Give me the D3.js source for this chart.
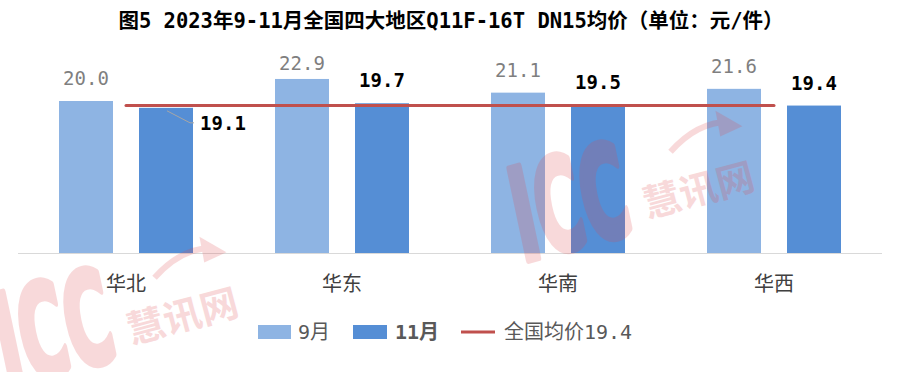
<!DOCTYPE html>
<html lang="zh">

<head>
	<meta charset="utf-8">
	<title>图5</title>
	<style>
		body {
			margin: 0;
			background: #fff;
		}

		svg {
			display: block;
			font-family: "Noto Sans CJK SC", sans-serif;
		}

		.num {
			font-family: "DejaVu Sans Mono", "Noto Sans CJK SC", monospace;
		}
	</style>
</head>

<body>
	<svg width="900" height="372"></svg>

	<script src="https://d3js.org/d3.v7.min.js"></script>
	<script>
		// data
		var regions = ["华北", "华东", "华南", "华西"];
		var seriesNames = ["9月", "11月"];
		var sep = [20.0, 22.9, 21.1, 21.6];
		var nov = [19.1, 19.7, 19.5, 19.4];
		var avgName = "全国均价";
		var avg = 19.4;
		var title = "图5 2023年9-11月全国四大地区Q11F-16T DN15均价（单位：元/件）";

		var colors = ["#8EB4E3", "#558ED5"];
		var lineColor = "#C0504D";

		var svg = d3.select("svg");

		var x = d3.scaleBand().domain(regions).range([18, 882]);
		var x1 = d3.scaleBand().domain(seriesNames).range([0, x.bandwidth()])
			.paddingInner(0.325).paddingOuter(0.5125);
		var y = d3.scaleLinear().domain([0, 25]).range([253, 63]);

		// title
		svg.append("text")
			.attr("class", "num")
			.attr("x", 451)
			.attr("y", 28)
			.attr("text-anchor", "middle")
			.style("font-size", "20.5px")
			.style("font-weight", "bold")
			.style("fill", "#000")
			.text(title);

		// axis line
		svg.append("line")
			.attr("x1", x.range()[0]).attr("x2", x.range()[1])
			.attr("y1", y(0) + 0.5).attr("y2", y(0) + 0.5)
			.style("stroke", "#D9D9D9")
			.style("stroke-width", 1);

		var rows = regions.map(function(r, i) {
			return { region: r, values: [sep[i], nov[i]] };
		});

		var groups = svg.selectAll(".group").data(rows)
			.enter().append("g")
			.attr("class", "group")
			.attr("transform", function(d) { return "translate(" + x(d.region) + ",0)"; });

		groups.selectAll("rect").data(function(d) { return d.values; })
			.enter().append("rect")
			.attr("x", function(d, i) { return x1(seriesNames[i]); })
			.attr("width", x1.bandwidth())
			.attr("y", function(d) { return y(d); })
			.attr("height", function(d) { return y(0) - y(d); })
			.style("fill", function(d, i) { return colors[i]; });

		// 9月 labels
		groups.append("text")
			.attr("class", "num")
			.attr("x", x1("9月") + x1.bandwidth() / 2)
			.attr("y", function(d) { return Math.max(y(d.values[0]) - 16, 70); })
			.attr("text-anchor", "middle")
			.style("font-size", "19px")
			.style("fill", "#7F7F7F")
			.text(function(d) { return d.values[0].toFixed(1); });

		// 11月 labels (first one moved right with a leader line)
		groups.append("text")
			.attr("class", "num")
			.attr("x", function(d, i) { return i == 0 ? x1("11月") + x1.bandwidth() + 30 : x1("11月") + x1.bandwidth() / 2; })
			.attr("y", function(d, i) { return i == 0 ? y(d.values[1]) + 22 : y(d.values[1]) - 16; })
			.attr("text-anchor", "middle")
			.style("font-size", "19px")
			.style("font-weight", "bold")
			.style("fill", "#000")
			.text(function(d) { return d.values[1].toFixed(1); });

		var b0 = x(regions[0]) + x1("11月");
		svg.append("polyline")
			.attr("points", [
				[b0 + 28, y(nov[0]) + 3],
				[b0 + 51, y(nov[0]) + 15],
				[b0 + 55, y(nov[0]) + 15]
			].join(" "))
			.style("fill", "none")
			.style("stroke", "#A6A6A6")
			.style("stroke-width", 1);

		// average line
		svg.append("line")
			.attr("x1", x(regions[0]) + x.bandwidth() / 2)
			.attr("x2", x(regions[regions.length - 1]) + x.bandwidth() / 2)
			.attr("y1", y(avg)).attr("y2", y(avg))
			.style("stroke", lineColor)
			.style("stroke-width", 3)
			.style("stroke-linecap", "round");

		// category labels
		svg.selectAll(".cat").data(regions)
			.enter().append("text")
			.attr("class", "cat")
			.attr("x", function(d) { return x(d) + x.bandwidth() / 2; })
			.attr("y", 291)
			.attr("text-anchor", "middle")
			.style("font-size", "20px")
			.style("fill", "#404040")
			.text(function(d) { return d; });

		// legend
		var lg = svg.append("g").attr("transform", "translate(0,332)");
		lg.append("rect").attr("x", 258).attr("y", -7).attr("width", 33).attr("height", 14).style("fill", colors[0]);
		lg.append("text").attr("class", "num").attr("x", 298).attr("y", 7)
			.style("font-size", "20px").style("fill", "#595959").text(seriesNames[0]);
		lg.append("rect").attr("x", 353).attr("y", -7).attr("width", 34).attr("height", 14).style("fill", colors[1]);
		lg.append("text").attr("class", "num").attr("x", 395).attr("y", 7)
			.style("font-size", "20px").style("font-weight", "bold").style("fill", "#595959").text(seriesNames[1]);
		lg.append("line").attr("x1", 461).attr("x2", 495).attr("y1", 0).attr("y2", 0)
			.style("stroke", lineColor).style("stroke-width", 3);
		lg.append("text").attr("class", "num").attr("x", 504).attr("y", 7)
			.style("font-size", "20px").style("fill", "#595959").text(avgName + avg.toFixed(1));

		// watermarks
		function watermark(tx, ty) {
			var g = svg.append("g")
				.attr("transform", "translate(" + tx + "," + ty + ") rotate(-15)")
				.style("opacity", 0.2)
				.style("fill", "#E0474C");
			g.append("text")
				.attr("transform", "scale(0.5,1) skewX(-6)")
				.attr("x", 0).attr("y", 0)
				.style("font-family", "'DejaVu Sans', sans-serif")
				.style("font-size", "128px")
				.style("font-weight", "bold")
				.style("stroke", "#E0474C")
				.style("stroke-width", 7)
				.style("stroke-linejoin", "round")
				.text("ICC");
			g.append("text")
				.attr("x", 132).attr("y", -10)
				.style("font-size", "38px")
				.style("font-weight", "bold")
				.text("慧讯网");
			g.append("path")
				.attr("d", "M 172 -68 Q 205 -90 236 -82")
				.style("fill", "none")
				.style("stroke", "#E0474C")
				.style("stroke-width", 6);
			g.append("path")
				.attr("d", "M 226 -96 L 248 -74 L 224 -70 Z");
		}
		watermark(522, 262);
		watermark(6, 388);
	</script>
</body>

</html>
